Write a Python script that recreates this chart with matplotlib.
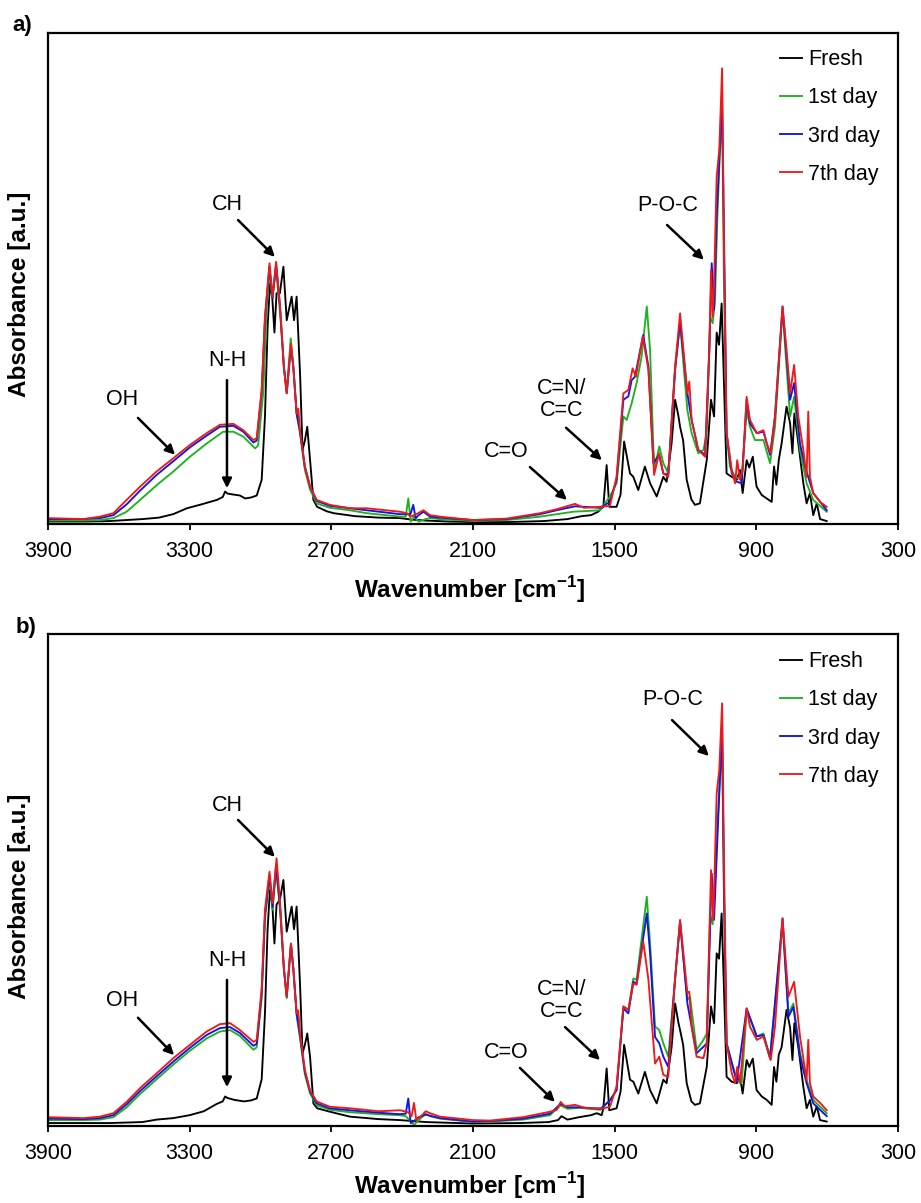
import numpy as np
import matplotlib
matplotlib.use("Agg")
import matplotlib.pyplot as plt

plt.rcParams['font.family'] = ['Liberation Sans', 'DejaVu Sans']
plt.rcParams['mathtext.fontset'] = 'custom'
plt.rcParams['mathtext.rm'] = 'Liberation Sans'
plt.rcParams['mathtext.bf'] = 'Liberation Sans:bold'

labels = ['Fresh', '1st day', '3rd day', '7th day']
colors = ['black', '#1db31d', '#1414e6', '#ee1a1a']
xticks = [3900, 3300, 2700, 2100, 1500, 900, 300]

# ---- panel a) : (wavenumber, absorbance)
a_fresh = [(3900, .005), (3750, .005), (3640, .006), (3500, .010), (3430, .013), (3370, .020),
           (3312, .032), (3250, .040), (3185, .049), (3160, .055), (3150, .066), (3140, .062),
           (3115, .060), (3087, .058), (3065, .052), (3040, .054), (3016, .058), (2995, .090),
           (2981, .22), (2970, .40), (2960, .49), (2950, .46), (2941, .39), (2932, .47),
           (2918, .47), (2903, .524), (2889, .415), (2868, .463), (2858, .415), (2847, .463),
           (2832, .30), (2822, .151), (2812, .170), (2802, .198), (2790, .13), (2776, .049),
           (2760, .035), (2720, .026), (2690, .022), (2600, .016), (2500, .013), (2409, .012),
           (2360, .009), (2300, .007), (2200, .005), (2100, .004), (1950, .004), (1800, .006),
           (1700, .010), (1640, .016), (1600, .018), (1570, .025), (1548, .035), (1534, .120),
           (1523, .035), (1492, .035), (1475, .06), (1460, .168), (1435, .103), (1421, .096),
           (1400, .069), (1372, .117), (1350, .083), (1322, .056), (1294, .096), (1280, .086),
           (1259, .164), (1244, .253), (1230, .22), (1223, .198), (1210, .17), (1195, .090),
           (1175, .05), (1160, .039), (1139, .042), (1110, .130), (1092, .253), (1079, .219),
           (1068, .390), (1058, .365), (1047, .449), (1037, .286), (1026, .103), (1004, .096),
           (983, .090), (969, .110), (958, .063), (941, .130), (930, .115), (915, .137),
           (899, .076), (877, .059), (856, .052), (835, .045), (825, .117), (815, .08),
           (805, .13), (793, .164), (772, .239), (757, .205), (747, .144), (739, .225),
           (722, .164), (701, .083), (687, .042), (673, .063), (659, .018), (644, .042),
           (630, .010), (602, .006)]

a_day1 = [(3900, .007), (3750, .007), (3680, .008), (3623, .012), (3567, .025), (3510, .049),
          (3440, .079), (3369, .107), (3299, .137), (3228, .164), (3158, .188), (3115, .188),
          (3073, .178), (3023, .154), (3010, .160), (2988, .270), (2975, .43), (2962, .517),
          (2950, .46), (2934, .52), (2917, .43), (2901, .32), (2889, .27), (2872, .378),
          (2861, .32), (2847, .225), (2833, .185), (2812, .11), (2790, .07), (2762, .042),
          (2706, .033), (2621, .028), (2550, .022), (2409, .015), (2385, .015), (2374, .052),
          (2364, .005), (2350, .015), (2330, .005), (2300, .010), (2282, .012), (2240, .010),
          (2100, .006), (1957, .008), (1816, .015), (1675, .025), (1562, .028), (1520, .056),
          (1492, .083), (1463, .219), (1449, .212), (1428, .246), (1407, .287), (1386, .341),
          (1364, .443), (1350, .354), (1336, .151), (1329, .117), (1311, .158), (1294, .124),
          (1273, .103), (1244, .320), (1223, .409), (1202, .287), (1192, .232), (1174, .185),
          (1146, .144), (1124, .151), (1110, .185), (1096, .422), (1085, .409), (1075, .456),
          (1065, .626), (1054, .762), (1045, .830), (1037, .490), (1026, .185), (1012, .117),
          (990, .096), (976, .093), (962, .090), (941, .232), (927, .198), (906, .171),
          (870, .171), (842, .124), (821, .198), (789, .436), (772, .320), (757, .219),
          (740, .259), (715, .151), (687, .083), (659, .049), (602, .025)]

a_day3 = [(3900, .010), (3750, .010), (3680, .012), (3623, .018), (3567, .040), (3510, .068),
          (3440, .100), (3369, .128), (3299, .156), (3228, .180), (3172, .198), (3115, .200),
          (3073, .188), (3030, .166), (3016, .170), (2995, .270), (2981, .42), (2962, .525),
          (2949, .46), (2934, .53), (2917, .44), (2901, .32), (2889, .266), (2871, .36),
          (2861, .32), (2847, .225), (2833, .19), (2812, .117), (2790, .076), (2762, .047),
          (2706, .037), (2621, .032), (2550, .028), (2409, .020), (2365, .020), (2353, .039),
          (2343, .012), (2330, .018), (2310, .025), (2282, .015), (2240, .013), (2100, .008),
          (1957, .010), (1816, .020), (1746, .028), (1668, .036), (1562, .033), (1520, .045),
          (1492, .090), (1463, .253), (1442, .26), (1428, .293), (1414, .30), (1379, .385),
          (1357, .320), (1336, .124), (1312, .141), (1294, .103), (1273, .100), (1244, .313),
          (1223, .412), (1192, .266), (1174, .212), (1146, .151), (1117, .141), (1099, .355),
          (1089, .531), (1079, .436), (1068, .626), (1057, .741), (1045, .864), (1034, .490),
          (1026, .185), (1004, .103), (983, .086), (962, .083), (941, .253), (927, .205),
          (898, .185), (870, .188), (842, .141), (821, .219), (789, .443), (772, .341),
          (757, .253), (740, .287), (715, .164), (694, .117), (659, .063), (602, .028)]

a_day7 = [(3900, .012), (3750, .010), (3680, .015), (3623, .022), (3567, .049), (3510, .076),
          (3440, .107), (3369, .134), (3299, .161), (3228, .185), (3172, .202), (3115, .204),
          (3073, .191), (3030, .171), (3016, .175), (2995, .273), (2981, .422), (2962, .531),
          (2949, .463), (2934, .534), (2917, .443), (2901, .320), (2889, .266), (2871, .368),
          (2861, .320), (2847, .225), (2840, .235), (2833, .191), (2812, .117), (2790, .076),
          (2762, .049), (2706, .039), (2621, .032), (2550, .032), (2409, .025), (2380, .022),
          (2365, .015), (2340, .020), (2310, .028), (2282, .018), (2240, .015), (2099, .008),
          (1957, .011), (1816, .022), (1746, .030), (1668, .041), (1630, .033), (1562, .035),
          (1520, .037), (1492, .096), (1463, .266), (1442, .273), (1424, .317), (1410, .30),
          (1381, .382), (1357, .314), (1333, .100), (1312, .144), (1294, .103), (1273, .096),
          (1244, .320), (1223, .429), (1192, .266), (1184, .290), (1174, .212), (1146, .151),
          (1117, .137), (1099, .355), (1092, .517), (1085, .422), (1079, .490), (1068, .707),
          (1057, .762), (1045, .928), (1037, .558), (1026, .185), (1004, .110), (990, .083),
          (981, .130), (969, .090), (958, .110), (941, .259), (927, .212), (898, .185),
          (870, .191), (856, .164), (839, .144), (821, .219), (789, .443), (772, .354),
          (757, .266), (740, .324), (722, .218), (701, .151), (687, .096), (680, .229),
          (673, .096), (659, .063), (630, .045), (602, .035)]

# ---- panel b)
b_fresh = [(3900, .006), (3640, .006), (3500, .008), (3440, .013), (3370, .016), (3300, .022),
           (3240, .030), (3185, .045), (3160, .050), (3150, .060), (3140, .057), (3110, .053),
           (3070, .050), (3040, .052), (3016, .056), (2995, .095), (2981, .230), (2970, .40),
           (2960, .48), (2950, .45), (2941, .371), (2932, .45), (2918, .46), (2903, .500),
           (2889, .395), (2868, .446), (2858, .400), (2847, .446), (2832, .28), (2822, .148),
           (2812, .165), (2802, .188), (2790, .14), (2776, .046), (2760, .036), (2706, .029),
           (2621, .019), (2500, .014), (2409, .012), (2300, .008), (2100, .005), (1900, .006),
           (1780, .008), (1740, .012), (1725, .020), (1700, .013), (1650, .018), (1600, .022),
           (1576, .026), (1555, .022), (1548, .036), (1534, .117), (1523, .032), (1492, .036),
           (1475, .07), (1460, .165), (1435, .094), (1421, .090), (1400, .066), (1372, .110),
           (1350, .073), (1322, .046), (1294, .094), (1280, .087), (1259, .160), (1244, .249),
           (1230, .210), (1223, .195), (1210, .165), (1195, .087), (1175, .050), (1160, .043),
           (1139, .046), (1110, .120), (1092, .243), (1079, .209), (1068, .351), (1058, .340),
           (1047, .432), (1037, .277), (1026, .100), (1004, .090), (983, .087), (969, .100),
           (958, .066), (941, .134), (930, .120), (915, .137), (899, .073), (877, .060),
           (856, .053), (835, .043), (825, .120), (815, .09), (805, .145), (793, .160),
           (772, .236), (757, .200), (747, .134), (739, .209), (722, .160), (701, .080),
           (687, .036), (673, .053), (659, .019), (644, .040), (630, .012), (602, .009)]

b_day1 = [(3900, .012), (3750, .012), (3680, .013), (3623, .018), (3567, .038), (3510, .065),
          (3440, .095), (3369, .125), (3299, .153), (3228, .178), (3172, .192), (3129, .195),
          (3087, .183), (3030, .155), (3016, .160), (2995, .260), (2981, .42), (2962, .505),
          (2949, .44), (2934, .52), (2917, .44), (2901, .32), (2889, .26), (2871, .37),
          (2861, .32), (2847, .225), (2833, .18), (2812, .105), (2790, .066), (2762, .042),
          (2706, .033), (2621, .028), (2500, .024), (2409, .022), (2385, .020), (2360, .008),
          (2350, .002), (2330, .012), (2300, .025), (2282, .020), (2240, .015), (2100, .008),
          (2028, .009), (1887, .013), (1774, .022), (1729, .042), (1700, .035), (1650, .037),
          (1560, .033), (1520, .052), (1492, .073), (1463, .243), (1442, .236), (1421, .300),
          (1407, .297), (1364, .466), (1350, .371), (1329, .202), (1311, .195), (1294, .168),
          (1273, .141), (1244, .30), (1223, .415), (1192, .256), (1181, .263), (1153, .155),
          (1124, .175), (1110, .188), (1096, .43), (1085, .41), (1065, .608), (1054, .710),
          (1045, .778), (1037, .473), (1026, .168), (983, .093), (962, .087), (941, .236),
          (898, .182), (870, .188), (842, .141), (789, .412), (764, .229), (743, .249),
          (715, .148), (687, .093), (659, .053), (602, .026)]

b_day3 = [(3900, .015), (3750, .014), (3680, .016), (3623, .022), (3567, .044), (3510, .071),
          (3440, .101), (3369, .131), (3299, .159), (3228, .185), (3172, .199), (3129, .201),
          (3087, .189), (3030, .163), (3016, .167), (2995, .27), (2981, .43), (2962, .51),
          (2949, .445), (2934, .53), (2917, .445), (2901, .32), (2889, .263), (2871, .37),
          (2861, .32), (2847, .229), (2833, .185), (2812, .11), (2790, .07), (2762, .046),
          (2706, .036), (2621, .032), (2500, .027), (2409, .024), (2385, .025), (2374, .056),
          (2364, .006), (2350, .010), (2330, .018), (2300, .023), (2240, .016), (2100, .009),
          (2028, .010), (1887, .015), (1774, .025), (1729, .045), (1700, .038), (1650, .038),
          (1560, .035), (1520, .052), (1492, .073), (1463, .239), (1442, .229), (1421, .293),
          (1407, .290), (1364, .432), (1350, .351), (1329, .181), (1311, .168), (1294, .141),
          (1273, .120), (1244, .30), (1223, .415), (1192, .249), (1153, .148), (1124, .161),
          (1110, .168), (1089, .513), (1079, .419), (1057, .676), (1045, .812), (1037, .473),
          (1026, .168), (983, .090), (941, .239), (898, .182), (870, .185), (842, .137),
          (789, .422), (764, .222), (743, .242), (715, .141), (687, .087), (659, .046),
          (602, .020)]

b_day7 = [(3900, .018), (3750, .016), (3680, .019), (3623, .026), (3567, .049), (3510, .077),
          (3440, .107), (3369, .138), (3299, .165), (3228, .192), (3172, .207), (3129, .209),
          (3087, .195), (3030, .171), (3016, .175), (2995, .28), (2981, .44), (2962, .517),
          (2949, .453), (2932, .544), (2917, .453), (2901, .32), (2889, .263), (2871, .371),
          (2861, .32), (2847, .229), (2840, .235), (2833, .19), (2812, .114), (2790, .072),
          (2762, .050), (2706, .039), (2621, .036), (2500, .030), (2409, .032), (2375, .028),
          (2360, .020), (2350, .047), (2340, .012), (2320, .020), (2300, .030), (2282, .026),
          (2240, .019), (2100, .012), (2028, .011), (1887, .018), (1774, .029), (1745, .033),
          (1729, .049), (1712, .040), (1668, .043), (1620, .036), (1548, .036), (1520, .039),
          (1492, .080), (1463, .243), (1442, .236), (1421, .290), (1407, .287), (1379, .375),
          (1357, .297), (1329, .127), (1311, .141), (1294, .104), (1273, .100), (1244, .30),
          (1223, .419), (1192, .270), (1184, .273), (1174, .202), (1153, .141), (1124, .138),
          (1110, .168), (1092, .520), (1082, .419), (1068, .676), (1057, .723), (1045, .859),
          (1037, .541), (1026, .168), (1004, .107), (990, .087), (981, .120), (969, .087),
          (941, .239), (927, .202), (898, .175), (870, .182), (839, .134), (821, .202),
          (789, .422), (764, .263), (740, .293), (715, .182), (687, .093), (680, .175),
          (673, .087), (659, .060), (630, .047), (602, .032)]

# annotations: text, text position, arrow start, arrow tip (data coords)
notes_a = [("CH", (3142, .650), (3095, .619), (2939, .544)),
           ("N-H", (3142, .334), (3142, .293), (3142, .073)),
           ("OH", (3587, .253), (3519, .216), (3362, .141)),
           ("C=O", (1960, .147), (1859, .116), (1702, .049)),
           ("C=N/\nC=C", (1723, .253), (1706, .196), (1554, .130)),
           ("P-O-C", (1274, .648), (1278, .609), (1122, .538))]
notes_b = [("CH", (3142, .652), (3095, .622), (2939, .547)),
           ("N-H", (3142, .337), (3142, .297), (3142, .079)),
           ("OH", (3587, .256), (3519, .220), (3366, .144)),
           ("C=O", (1960, .150), (1901, .118), (1753, .049)),
           ("C=N/\nC=C", (1723, .255), (1710, .201), (1562, .134)),
           ("P-O-C", (1253, .866), (1257, .825), (1101, .752))]


def draw_panel(ax, series, notes, leg_top, xlab_y):
    for data, lab, col in zip(series, labels, colors):
        arr = np.array(data)
        ax.plot(arr[:, 0], arr[:, 1], color=col, lw=1.35, label=lab)
    ax.set_xlim(3900, 300)
    ax.set_ylim(0, 1)
    ax.set_xticks(xticks)
    ax.set_yticks([])
    ax.tick_params(axis='x', direction='out', length=4, width=1.3, pad=8, labelsize=15.5)
    for sp in ax.spines.values():
        sp.set_linewidth(1.6)
    ax.set_xlabel('Wavenumber [cm$^{\\mathbf{-1}}$]', fontsize=17.5, fontweight='bold')
    ax.xaxis.set_label_coords(0.4965, xlab_y)
    ax.xaxis.label.set_va('center')
    ax.set_ylabel('Absorbance [a.u.]', fontsize=17.5, fontweight='bold')
    ax.yaxis.set_label_coords(-0.034, 0.467)
    ax.yaxis.label.set_va('center')
    for txt, pos, start, tip in notes:
        ax.text(pos[0], pos[1], txt, fontsize=15.5, ha='center', va='center',
                multialignment='center', linespacing=1.05)
        ax.annotate('', xy=tip, xytext=start,
                    arrowprops=dict(arrowstyle='-|>', color='black', lw=1.8,
                                    mutation_scale=14, shrinkA=0, shrinkB=0))
    ax.legend(loc='upper left', bbox_to_anchor=(0.861, leg_top), frameon=False,
              fontsize=15.5, handlelength=1.05, handletextpad=0.25,
              labelspacing=0.8, borderaxespad=0, borderpad=0)


fig = plt.figure(figsize=(9.21, 12.03), dpi=100)
ax_a = fig.add_axes([48 / 921, 1 - 524 / 1203, 850 / 921, 491 / 1203])
ax_b = fig.add_axes([48 / 921, 1 - 1126 / 1203, 850 / 921, 492 / 1203])

draw_panel(ax_a, [a_fresh, a_day1, a_day3, a_day7], notes_a, 0.967, -0.134)
draw_panel(ax_b, [b_fresh, b_day1, b_day3, b_day7], notes_b, 0.965, -0.122)

fig.text(22 / 921, 1 - 26 / 1203, 'a)', fontsize=16, fontweight='bold', ha='center', va='center')
fig.text(26 / 921, 1 - 628 / 1203, 'b)', fontsize=16, fontweight='bold', ha='center', va='center')

fig.savefig('out.png', dpi=100)
